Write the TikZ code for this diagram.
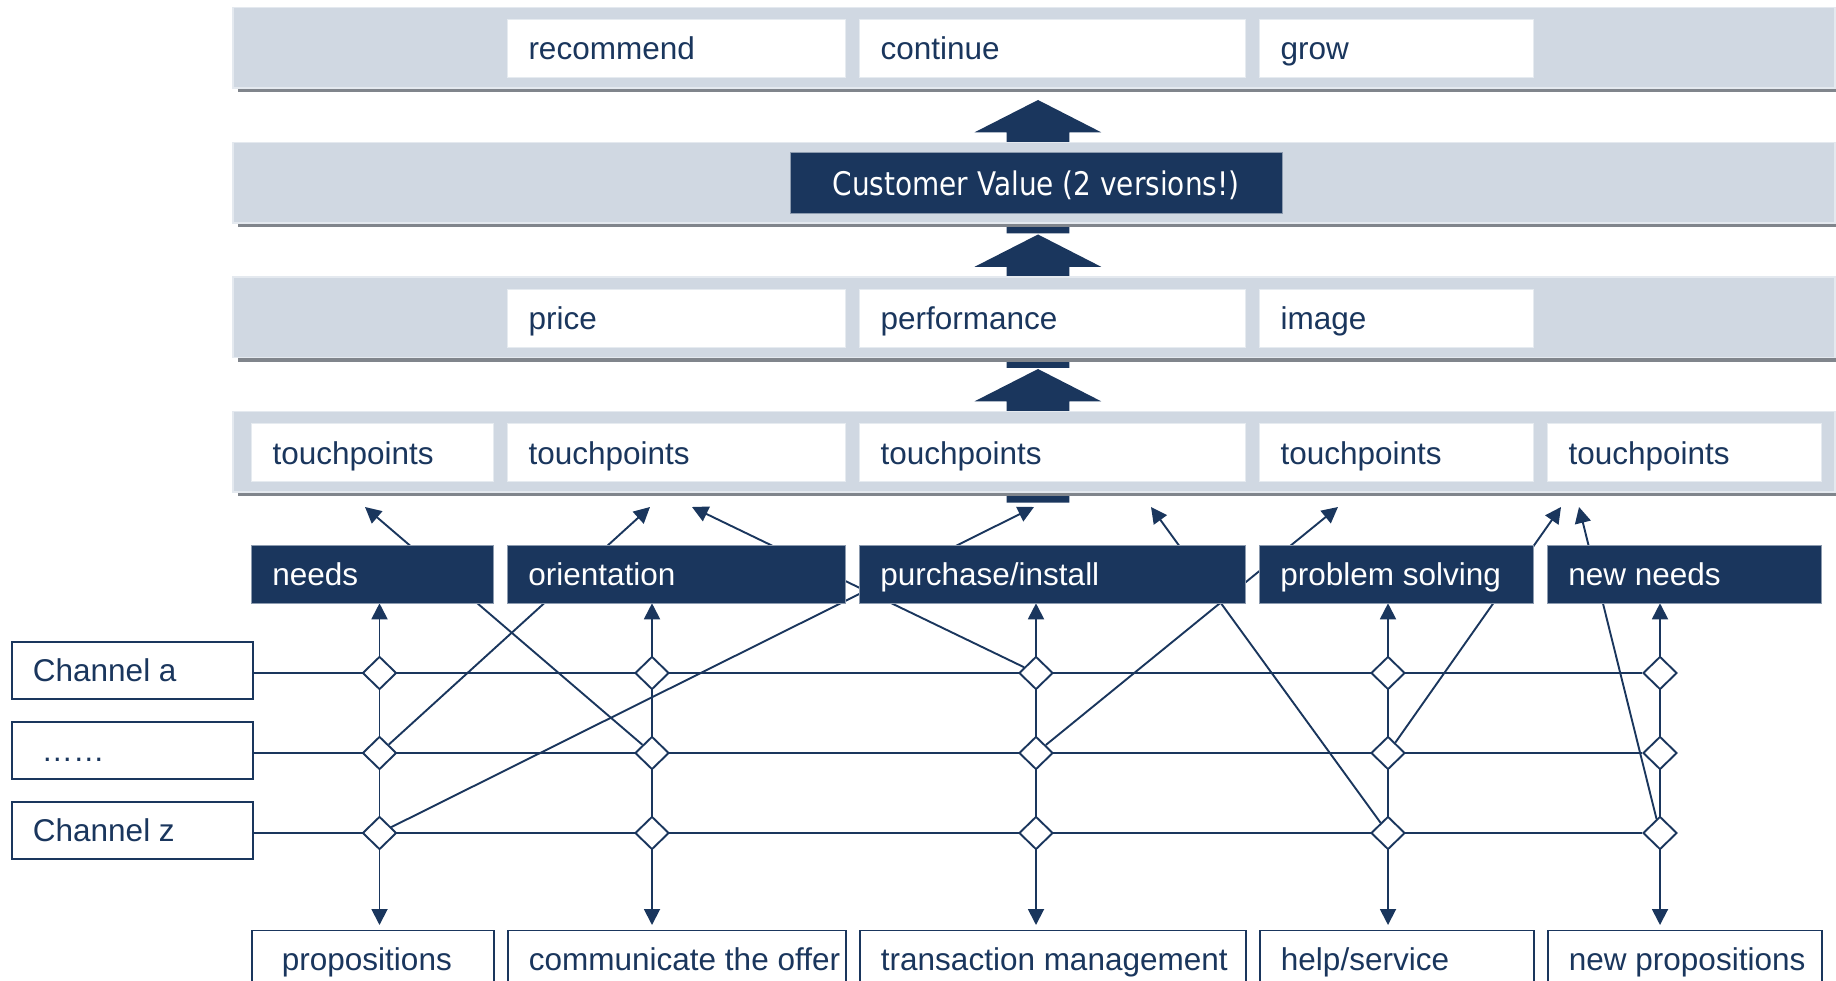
\documentclass[tikz,border=0pt]{standalone}
\usepackage{fontspec}
\setmainfont{Liberation Sans}
\newfontfamily\cvfont[FakeStretch=0.86]{DejaVu Sans}
\usetikzlibrary{arrows.meta,shapes.geometric,backgrounds,calc}

\definecolor{navy}{RGB}{26,54,93}
\definecolor{bandfill}{RGB}{208,216,226}
\definecolor{bandrim}{RGB}{228,233,239}
\definecolor{bandshade}{RGB}{128,133,140}
\definecolor{cellrim}{RGB}{230,235,240}
\definecolor{stagerim}{RGB}{140,155,175}

% left-aligned labelled box: style, name, left x, top y, width, label
\newcommand{\labelbox}[6]{%
  \node[#1, anchor=north west, minimum width=#5pt] (#2) at (#3,#4)
    {\makebox[\dimexpr#5pt-42pt\relax][l]{#6}};}

% grey band with its drop shadow, given its top edge
\newcommand{\greyband}[1]{%
  \fill[bandshade] (238,#1+4) rectangle (1840,#1+84.5);
  \draw[bandrim, fill=bandfill, line width=1.5pt] (233,#1) rectangle (1835,#1+80.5);}

% broad upward block arrow, given the y of its tip
\newcommand{\blockup}[1]{%
  \fill[navy] (1038,#1) -- (1101.2,#1+32.3) -- (1069.3,#1+32.3) -- (1069.3,#1+133.5)
    -- (1006.7,#1+133.5) -- (1006.7,#1+32.3) -- (974.6,#1+32.3) -- cycle;}

\begin{document}
\begin{tikzpicture}[x=1pt, y=-1pt,
  font=\fontsize{31.5}{36}\selectfont,
  cell/.style={rectangle, fill=white, draw=cellrim, line width=1pt,
    minimum height=58pt, inner xsep=21pt, inner ysep=0pt,
    text height=23pt, text depth=0pt, text=navy},
  stagebox/.style={cell, fill=navy, draw=stagerim, line width=0.8pt, text=white},
  outbox/.style={cell, draw=navy, line width=1.9pt},
  chanbox/.style={outbox, minimum height=57pt},
  hub/.style={diamond, draw=navy, fill=white, line width=1.9pt,
    minimum width=34pt, minimum height=33pt, inner sep=0pt},
  conn/.style={draw=navy, line width=1.9pt},
  tipped/.style={conn, -{Triangle[length=16pt,width=16pt]}},
  twoway/.style={conn, {Triangle[length=16pt,width=16pt]}-{Triangle[length=16pt,width=16pt]}}]

\useasboundingbox (0,0) rectangle (1836,981);
\clip (0,0) rectangle (1836,981);

% the four grey bands
\greyband{7.5}
\greyband{142.7}
\greyband{277.2}
\greyband{411.7}

% outcomes
\labelbox{cell}{recm}{507}{19}{338}{recommend}
\labelbox{cell}{cont}{859}{19}{386}{continue}
\labelbox{cell}{grow}{1259}{19}{274}{grow}

% customer value
\node[cell, fill=navy, draw=stagerim, line width=0.8pt, text=white,
  minimum width=492pt, minimum height=61pt, inner xsep=0pt,
  text height=23.7pt, font=\cvfont\fontsize{32.5}{36}\selectfont]
  (cv) at (1036,183.4) {Customer Value (2 versions!)};

% value drivers
\labelbox{cell}{price}{507}{288.7}{338}{price}
\labelbox{cell}{perf}{859}{288.7}{386}{performance}
\labelbox{cell}{image}{1259}{288.7}{274}{image}

% touchpoints
\labelbox{cell}{tp1}{251}{423.2}{242}{touchpoints}
\labelbox{cell}{tp2}{507}{423.2}{338}{touchpoints}
\labelbox{cell}{tp3}{859}{423.2}{386}{touchpoints}
\labelbox{cell}{tp4}{1259}{423.2}{274}{touchpoints}
\labelbox{cell}{tp5}{1547}{423.2}{274}{touchpoints}

% customer journey stages
\labelbox{stagebox}{needs}{251}{544.5}{242}{needs}
\labelbox{stagebox}{orient}{507}{544.5}{338}{orientation}
\labelbox{stagebox}{purch}{859}{544.5}{386}{purchase/install}
\labelbox{stagebox}{probl}{1259}{544.5}{274}{problem solving}
\labelbox{stagebox}{newn}{1547}{544.5}{274}{new needs}

% channels
\labelbox{chanbox}{cha}{11}{641}{241}{Channel a}
\labelbox{chanbox}{chd}{11}{721}{241}{\hspace*{8.8pt}……}
\labelbox{chanbox}{chz}{11}{801}{241}{Channel z}

% company processes
\labelbox{outbox}{prop}{251}{929.5}{242}{\hspace*{9pt}propositions}
\labelbox{outbox}{comm}{507}{929.5}{338}{communicate the offer}
\labelbox{outbox}{trans}{859}{929.5}{386}{transaction management}
\labelbox{outbox}{help}{1259}{929.5}{274}{help/service}
\labelbox{outbox}{newp}{1547}{929.5}{274}{new propositions}

% channel/stage crossings
\foreach \c/\x in {1/379.5, 2/652, 3/1036, 4/1388, 5/1660} {
  \node[hub] (ha\c) at (\x,673) {};
  \node[hub] (hd\c) at (\x,753) {};
  \node[hub] (hz\c) at (\x,833) {};
}

% arrow ends below the touchpoints
\coordinate (tA) at (365,507);
\coordinate (tB) at (650,507);
\coordinate (tC) at (1034,507);
\coordinate (tD) at (692,507);
\coordinate (tE) at (1338,507);
\coordinate (tF) at (1151,507);
\coordinate (tG) at (1561,507);
\coordinate (tH) at (1579,507);

\begin{scope}[on background layer]
  % block arrows between the bands
  \blockup{100}
  \blockup{234.5}
  \blockup{369}

  % channel lines
  \draw[conn] (cha.east |- ha1) -- (ha5);
  \draw[conn] (chd.east |- hd1) -- (hd5);
  \draw[conn] (chz.east |- hz1) -- (hz5);

  % stage columns
  \foreach \c/\s/\b in {1/needs/prop, 2/orient/comm, 3/purch/trans, 4/probl/help, 5/newn/newp}
    \draw[twoway] (ha\c |- \s.south) -- ($(hz\c |- \b.north)+(0,-4.5)$);

  % cross links to the touchpoints
  \draw[tipped] (hd2) -- (tA);
  \draw[tipped] (hd1) -- (tB);
  \draw[tipped] (hz1) -- (tC);
  \draw[tipped] (ha3) -- (tD);
  \draw[tipped] (hd3) -- (tE);
  \draw[tipped] (hz4) -- (tF);
  \draw[tipped] (hd4) -- (tG);
  \draw[tipped] (hz5) -- (tH);
\end{scope}
\end{tikzpicture}
\end{document}
